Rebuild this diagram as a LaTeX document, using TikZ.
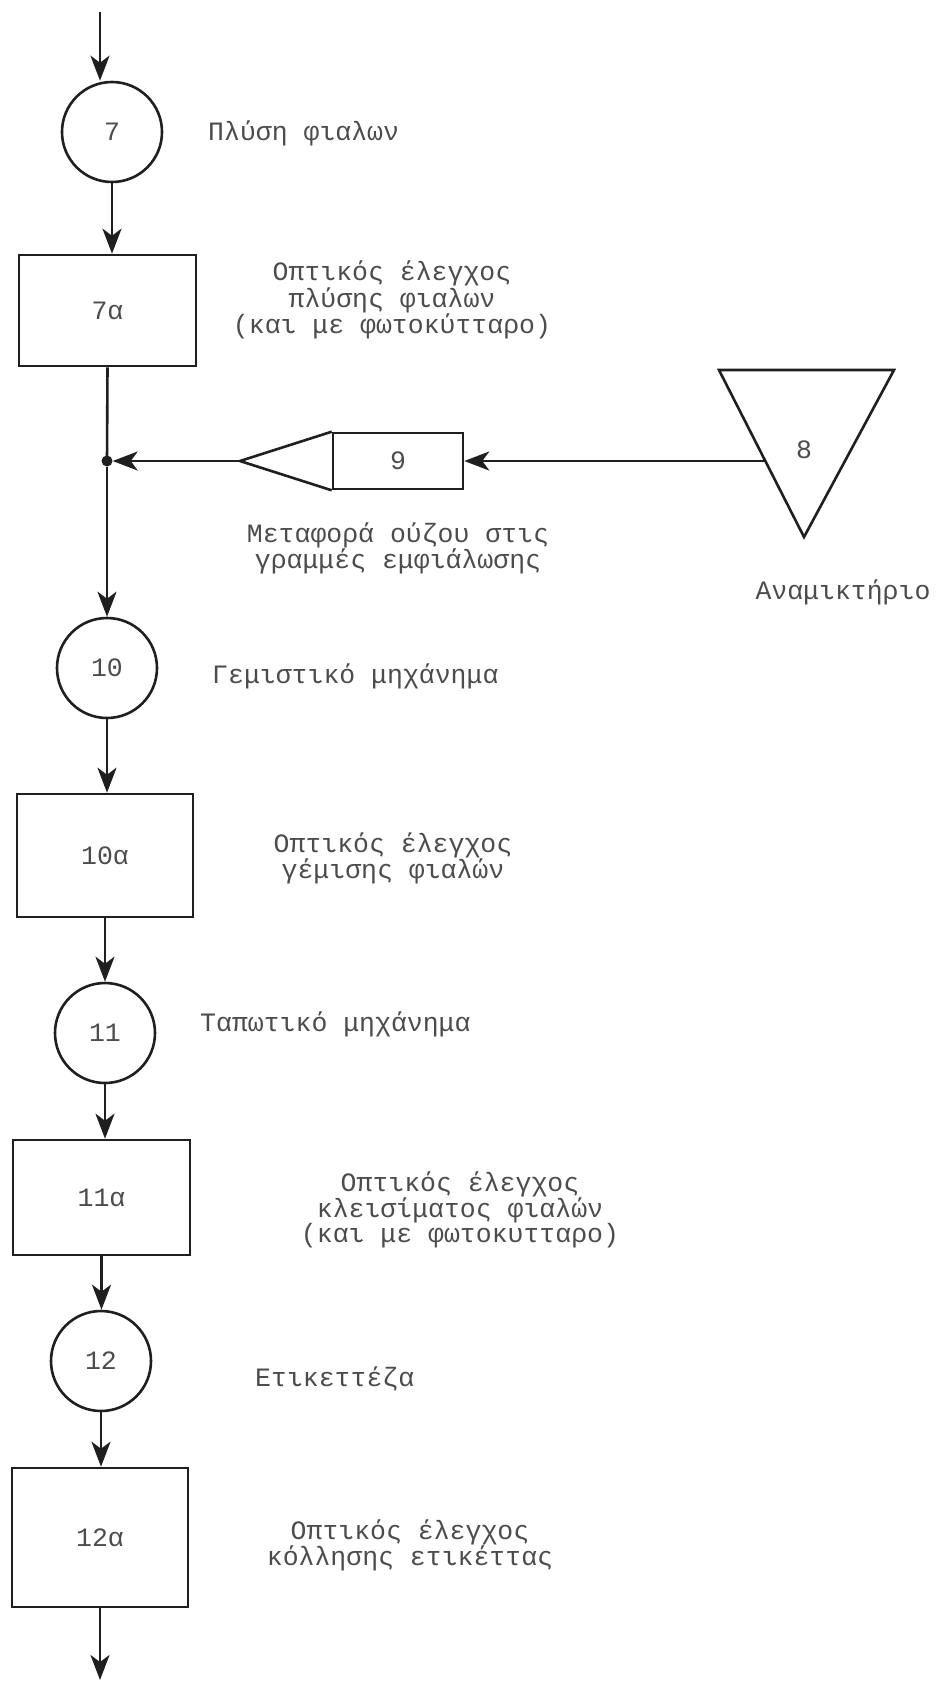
\documentclass[tikz,border=0pt]{standalone}
\usepackage{fontspec}
\setmainfont{Liberation Mono}
\usetikzlibrary{arrows.meta}
\begin{document}
\begin{tikzpicture}[x=1pt,y=-1pt,
  every node/.style={font=\fontsize{26.5}{25}\selectfont, text=black!70},
  ln/.style={line width=2.6pt, draw=black!88},
  arr/.style={ln, -{Stealth[length=25pt,width=19pt,inset=7pt]}},
  circ/.style={ln, circle, minimum size=100pt, inner sep=0pt},
  box/.style={ln, rectangle, inner sep=0pt},
  lbl/.style={align=center, inner sep=0pt},
  dot/.style={circle, fill=black!88, minimum size=11pt, inner sep=0pt}]
\useasboundingbox (0,0) rectangle (941,1682);
\fill[white] (0,0) rectangle (941,1682);
% nodes
\coordinate (top) at (100,12);
\node[circ] (c7) at (112,132) {7};
\node[box, minimum width=177pt, minimum height=111pt] (b7a) at (107.5,310.5) {7α};
\node[dot] (j) at (107,461) {};
\coordinate (p9) at (240,461);
\node[box, minimum width=130pt, minimum height=56pt] (n9) at (398,461) {9};
\draw[ln, line join=miter] (n9.north west) -- (p9) -- (n9.south west);
\draw[ln, line join=miter] (719,370) -- (894,370) -- (804,537) -- cycle;
\node (n8) at (804,450) {8};
\coordinate (t8) at (765,461);
\node[circ] (c10) at (107,668) {10};
\node[box, minimum width=176pt, minimum height=123pt] (b10a) at (105,855.5) {10α};
\node[circ] (c11) at (105,1033) {11};
\node[box, minimum width=177pt, minimum height=115pt] (b11a) at (101.5,1197.5) {11α};
\node[circ] (c12) at (101,1361) {12};
\node[box, minimum width=176pt, minimum height=139pt] (b12a) at (100,1537.5) {12α};
\coordinate (bot) at (100,1680);
% connectors
\draw[arr] (top) -- (top |- c7.north);
\draw[arr] (c7.south) -- (c7.south |- b7a.north);
\draw[ln] (b7a.south) -- (j.center);
\draw[arr] (j) -- (j |- c10.north);
\draw[arr] (t8) -- (n9.east);
\draw[arr] (p9) -- (j);
\draw[arr] (c10.south) -- (c10.south |- b10a.north);
\draw[arr] (b10a.south) -- (b10a.south |- c11.north);
\draw[arr] (c11.south) -- (c11.south |- b11a.north);
\draw[arr] (b11a.south) -- (b11a.south |- c12.north);
\draw[arr] (c12.south) -- (c12.south |- b12a.north);
\draw[arr] (b12a.south) -- (bot);
% labels
\node[lbl, anchor=west] (t7) at (208,133) {Πλύση φιαλων};
\node[lbl] (t7a) at (392,300) {Οπτικός έλεγχος\\πλύσης φιαλων\\(και με φωτοκύτταρο)};
\node[lbl] (t9) at (398,548) {Μεταφορά ούζου στις\\γραμμές εμφιάλωσης};
\node[lbl] (t8l) at (843,592) {Αναμικτήριο};
\node[lbl, anchor=west] (t10) at (212,676) {Γεμιστικό μηχάνημα};
\node[lbl] (t10a) at (393,858) {Οπτικός έλεγχος\\γέμισης φιαλών};
\node[lbl, anchor=west] (t11) at (200,1024) {Ταπωτικό μηχάνημα};
\node[lbl] (t11a) at (460,1210) {Οπτικός έλεγχος\\κλεισίματος φιαλών\\(και με φωτοκυτταρο)};
\node[lbl, anchor=west] (t12) at (255,1379) {Ετικεττέζα};
\node[lbl] (t12a) at (410,1545) {Οπτικός έλεγχος\\κόλλησης ετικέττας};
\end{tikzpicture}
\end{document}
